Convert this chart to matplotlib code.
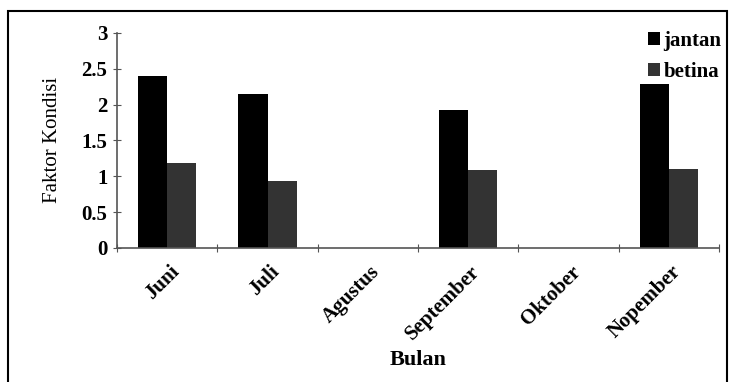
import numpy as np
import matplotlib.pyplot as plt
from matplotlib.patches import Rectangle

# Faktor kondisi per bulan
bulan = ['Juni', 'Juli', 'Agustus', 'September', 'Oktober', 'Nopember']
jantan = [2.40, 2.15, 0, 1.93, 0, 2.28]
betina = [1.19, 0.94, 0, 1.08, 0, 1.10]

plt.rcParams['font.family'] = ['Liberation Serif', 'DejaVu Serif']

fig = plt.figure(figsize=(7.29, 3.82), dpi=100)
ax = fig.add_axes([0.1605, 0.351, 0.826, 0.563])

x = np.arange(len(bulan))
w = 0.29
ax.bar(x - w / 2, jantan, w, color='black', label='jantan')
ax.bar(x + w / 2, betina, w, color='#333333', label='betina')

ax.set_xlim(-0.5, len(bulan) - 0.5)
ax.set_ylim(0, 3)
ax.set_yticks([0, 0.5, 1, 1.5, 2, 2.5, 3])
ax.set_yticklabels(['0', '0.5', '1', '1.5', '2', '2.5', '3'],
                   fontsize=15, fontweight='bold')

# Garis tick di batas kategori, label di tengah kategori
ax.set_xticks(np.arange(len(bulan) + 1) - 0.5)
ax.set_xticklabels([])
ax.set_xticks(x + 0.02, minor=True)
ax.set_xticklabels(bulan, minor=True, rotation=45, ha='right', va='top',
                   rotation_mode='anchor', fontsize=15, fontweight='bold')
ax.tick_params(axis='x', which='minor', length=0, pad=10)
ax.tick_params(axis='x', which='major', direction='inout', length=6,
               color='#555555')
ax.tick_params(axis='y', direction='inout', length=6, color='#555555', pad=4)

for s in ['top', 'right']:
    ax.spines[s].set_visible(False)
for s in ['left', 'bottom']:
    ax.spines[s].set_color('#555555')
    ax.spines[s].set_linewidth(1.2)

ax.set_ylabel('Faktor Kondisi', fontsize=15, labelpad=14)
ax.set_xlabel('Bulan', fontsize=16, fontweight='bold', labelpad=4)

ax.legend(loc='upper right', bbox_to_anchor=(1.035, 1.095), frameon=False,
          prop={'size': 15, 'weight': 'bold'}, handlelength=0.6,
          handleheight=0.6, handletextpad=0.15, labelspacing=0.5)

# Bingkai luar
fig.patches.append(Rectangle((8 / 729, -0.05), 719 / 729, 1 - 11 / 382 + 0.05,
                             transform=fig.transFigure, fill=False,
                             edgecolor='black', linewidth=1.5))

fig.savefig('out.png', dpi=100)
